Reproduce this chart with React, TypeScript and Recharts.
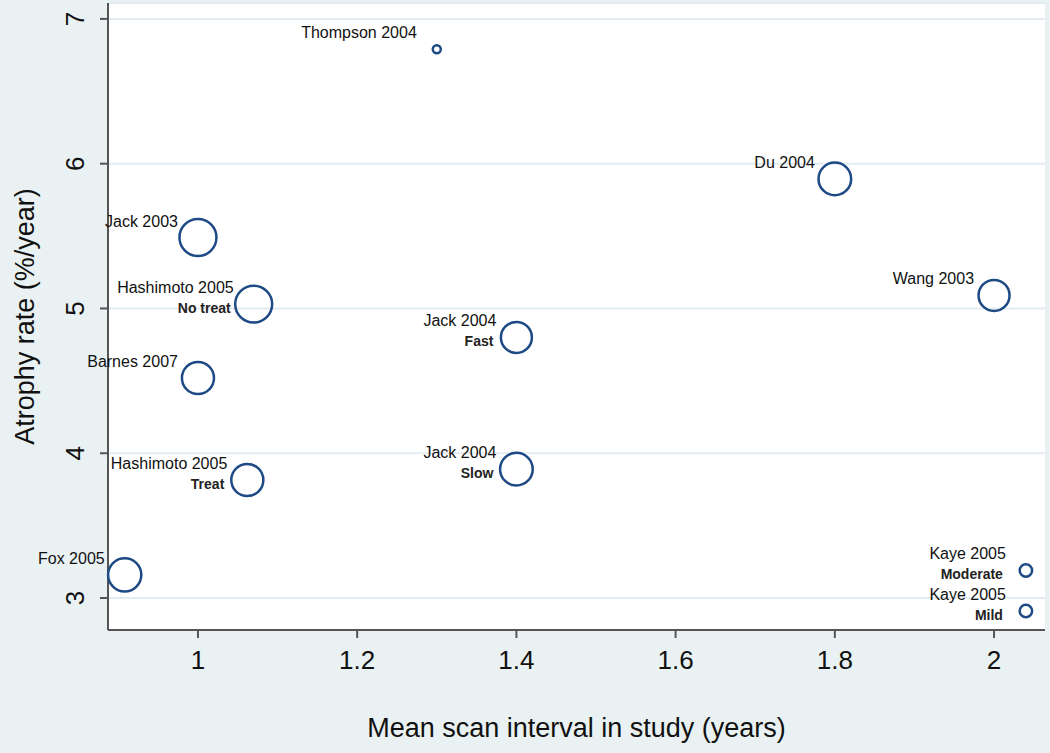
import React from "react";
import {
  ScatterChart,
  Scatter,
  XAxis,
  YAxis,
  ZAxis,
  CartesianGrid,
  Label,
} from "recharts";

document.body.style.margin = "0";

// one entry per study arm
const studyNames = [
  "Thompson 2004",
  "Du 2004",
  "Jack 2003",
  "Hashimoto 2005",
  "Wang 2003",
  "Jack 2004",
  "Barnes 2007",
  "Hashimoto 2005",
  "Jack 2004",
  "Fox 2005",
  "Kaye 2005",
  "Kaye 2005",
];
const subgroups = ["", "", "", "No treat", "", "Fast", "", "Treat", "Slow", "", "Moderate", "Mild"];
const scanInterval = [1.3, 1.8, 1.0, 1.07, 2.0, 1.4, 1.0, 1.062, 1.4, 0.908, 2.04, 2.04];
const atrophyRate = [6.79, 5.895, 5.49, 5.03, 5.09, 4.8, 4.52, 3.815, 3.89, 3.16, 3.19, 2.91];
// study weight (drives bubble area)
const studyWeight = [25, 300, 380, 380, 272, 272, 290, 290, 300, 310, 52, 52];

const xTicks = [1, 1.2, 1.4, 1.6, 1.8, 2];
const yTicks = [3, 4, 5, 6, 7];

const data = studyNames.map((name, i) => ({
  name,
  sub: subgroups[i],
  x: scanInterval[i],
  y: atrophyRate[i],
  w: studyWeight[i],
}));

const bgColor = "#eaf1f3";
const axisColor = "#555";
const gridColor = "#e3ecf1";
const bubbleColor = "#1d4a85";
const font = "'Liberation Sans', Arial, sans-serif";

const Bubble = (props: any) => {
  const { cx, cy, width, payload } = props;
  const r = Math.max(width / 2 - 1, 3);
  return (
    <g>
      <circle cx={cx} cy={cy} r={r} fill="none" stroke={bubbleColor} strokeWidth={2.5} />
      <text
        x={cx - 20}
        y={cy - 11}
        textAnchor="end"
        fontFamily={font}
        fontSize={16}
        fill="#111"
      >
        {payload.name}
      </text>
      {payload.sub ? (
        <text
          x={cx - 23}
          y={cy + 9}
          textAnchor="end"
          fontFamily={font}
          fontSize={14}
          fontWeight="bold"
          fill="#222"
        >
          {payload.sub}
        </text>
      ) : null}
    </g>
  );
};

const YTick = (props: any) => {
  const { x, y, payload } = props;
  const bx = x - 14;
  return (
    <text
      x={bx}
      y={y}
      transform={`rotate(-90 ${bx} ${y})`}
      textAnchor="middle"
      fontFamily={font}
      fontSize={26}
      fill="#111"
    >
      {payload.value}
    </text>
  );
};

export default function App() {
  return (
    <div style={{ width: 1050, height: 753, background: bgColor }}>
      <ScatterChart
        width={1050}
        height={753}
        margin={{ top: 3, right: 5, bottom: 0, left: 0 }}
      >
        <CartesianGrid vertical={false} fill="#fff" stroke={gridColor} strokeWidth={2} />
        <XAxis
          type="number"
          dataKey="x"
          domain={[0.887, 2.064]}
          ticks={xTicks}
          height={123}
          stroke={axisColor}
          axisLine={{ stroke: axisColor, strokeWidth: 2 }}
          tickLine={{ stroke: axisColor, strokeWidth: 2 }}
          tickSize={8}
          tickMargin={13}
          tick={{ fontSize: 26, fill: "#111", fontFamily: font }}
        >
          <Label
            value="Mean scan interval in study (years)"
            position="insideBottom"
            offset={16}
            style={{ fontSize: 27, fill: "#111", fontFamily: font }}
          />
        </XAxis>
        <YAxis
          type="number"
          dataKey="y"
          domain={[2.779, 7.11]}
          ticks={yTicks}
          width={108}
          stroke={axisColor}
          axisLine={{ stroke: axisColor, strokeWidth: 2 }}
          tickLine={{ stroke: axisColor, strokeWidth: 2 }}
          tickSize={8}
          tick={<YTick />}
        >
          <Label
            value="Atrophy rate (%/year)"
            angle={-90}
            position="insideLeft"
            offset={24}
            style={{ fontSize: 27, fill: "#111", fontFamily: font, textAnchor: "middle" }}
          />
        </YAxis>
        <ZAxis type="number" dataKey="w" domain={[0, 400]} range={[0, 400 * Math.PI]} />
        <Scatter data={data} shape={<Bubble />} isAnimationActive={false} />
      </ScatterChart>
    </div>
  );
}
